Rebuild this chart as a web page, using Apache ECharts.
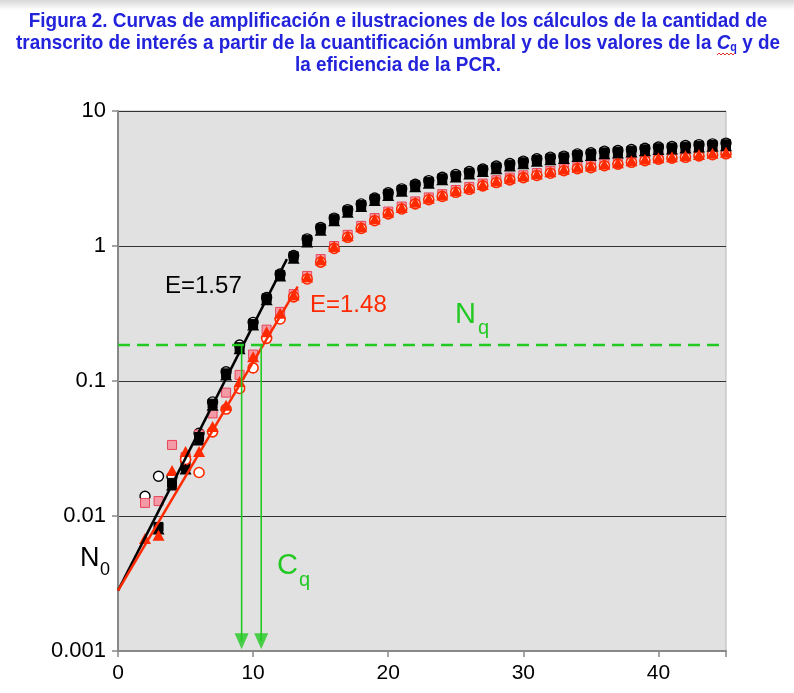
<!DOCTYPE html>
<html><head><meta charset="utf-8">
<script src="https://cdn.jsdelivr.net/npm/echarts@6/dist/echarts.min.js"></script>
<style>html,body{margin:0;padding:0;background:#fff}#c{width:794px;height:693px}</style>
</head><body><div id="c"></div>
<script>
// ---- data ----
const cycles = [2,3,4,5,6,7,8,9,10,11,12,13,14,15,16,17,18,19,20,21,22,23,24,25,26,27,28,29,30,31,32,33,34,35,36,37,38,39,40,41,42,43,44,45];
// black group (E=1.57)
const blackTriangle = [null,0.0080,0.0170,0.0223,0.0366,0.066,0.111,0.173,0.26,0.40,0.60,
  0.81,1.07,1.31,1.54,1.78,1.96,2.17,2.37,2.54,2.75,2.92,3.10,3.25,3.41,3.57,3.74,3.91,4.06,4.24,4.36,4.44,4.61,4.69,4.83,4.89,4.97,5.08,5.18,5.23,5.32,5.41,5.48,5.54];
const blackSquare = [null,0.0083,0.0176,0.0232,0.0385,0.068,0.114,0.178,0.265,0.41,0.61,
  0.84,1.11,1.35,1.58,1.83,2.01,2.23,2.43,2.60,2.82,2.99,3.17,3.32,3.49,3.65,3.83,4.00,4.17,4.34,4.46,4.54,4.72,4.80,4.94,5.00,5.08,5.20,5.30,5.35,5.44,5.53,5.60,5.67];
const blackCircle = [0.0140,0.0197,0.0195,0.0262,0.041,0.070,0.117,0.185,0.272,0.415,0.62,
  0.85,1.13,1.37,1.61,1.86,2.05,2.27,2.48,2.65,2.87,3.05,3.23,3.39,3.56,3.72,3.91,4.08,4.25,4.43,4.55,4.63,4.81,4.90,5.04,5.10,5.18,5.30,5.41,5.46,5.55,5.64,5.71,5.78];
// red group (E=1.48)
const redTriangle = [0.0068,0.0072,0.0217,0.0300,0.0300,0.046,0.066,0.099,0.151,0.232,0.317,
  0.434,0.59,0.787,0.99,1.19,1.39,1.585,1.78,1.93,2.11,2.26,2.39,2.57,2.70,2.86,3.03,3.17,3.30,3.42,3.55,3.70,3.83,3.91,4.03,4.14,4.28,4.39,4.51,4.59,4.66,4.77,4.86,4.94];
const pinkSquare = [0.0125,0.0129,0.0336,0.0273,0.0401,0.0575,0.082,0.111,0.157,0.24,0.325,
  0.44,0.60,0.80,1.00,1.21,1.41,1.61,1.80,1.96,2.14,2.29,2.42,2.60,2.74,2.90,3.07,3.21,3.34,3.47,3.60,3.75,3.88,3.96,4.08,4.20,4.34,4.45,4.57,4.65,4.72,4.83,4.92,5.00];
const redCircle = [null,null,null,0.0262,0.0210,0.042,0.062,0.088,0.125,0.207,0.288,
  0.42,0.57,0.76,0.96,1.16,1.35,1.54,1.73,1.88,2.05,2.20,2.33,2.50,2.63,2.79,2.95,3.09,3.21,3.33,3.46,3.61,3.74,3.81,3.93,4.04,4.17,4.28,4.40,4.48,4.54,4.65,4.74,4.82];
// fitted exponential lines
const fitBlack = [[0,0.0028],[12.5,0.80]];
const fitRed = [[0,0.0028],[13.3,0.50]];
// threshold and Cq values
const nqLevel = 0.185;
const cqValues = [9.15, 10.6];
const xTicks = [0,10,20,30,40];
const yTickLabels = ['0.001','0.01','0.1','1','10'];

// ---- chart ----
const pair = arr => cycles.map((c,i)=>[c, arr[i]]).filter(p => p[1] != null);
const GREEN = '#22c922';
const RED = '#ff2a00';
const BLUE = '#2323dc';
const FONT = '"Liberation Sans", Arial, sans-serif';
const chart = echarts.init(document.getElementById('c'), null, {renderer:'canvas'});

function scatter(name, arr, symbol, size, fill, border, bw, z){
  return {name, type:'scatter', data: pair(arr), symbol, symbolSize:size, z,
    itemStyle:{color:fill, borderColor:border, borderWidth:bw, opacity:1}, silent:true};
}

const arrowSeries = cqValues.map(c => ({
  type:'line', data:[[c, nqLevel],[c, 0.00118]], symbol:'none', z:6, silent:true,
  lineStyle:{color:GREEN, width:1.6}
}));
const arrowHeads = {
  type:'scatter', data: cqValues.map(c=>[c,0.00118]), symbol:'triangle', symbolRotate:180,
  symbolSize:[14,16], z:6, silent:true, itemStyle:{color:GREEN}
};

function titleText(y, style){
  return {type:'text', x:398, y, scaleX:0.9, scaleY:1, silent:true,
    style:Object.assign({align:'center', verticalAlign:'middle', fill:BLUE, font:'bold 21px '+FONT}, style)};
}

const option = {
  animation:false,
  backgroundColor:'#fff',
  grid:{left:118, right:68, top:111, bottom:42, show:true, backgroundColor:'#e1e1e1', borderColor:'#b4b4b4', borderWidth:1},
  xAxis:{type:'value', min:0, max:45, interval:10,
    axisLine:{show:true, lineStyle:{color:'#888', width:2}},
    axisTick:{show:true, length:6, lineStyle:{color:'#888', width:1.5}},
    axisLabel:{color:'#000', fontSize:21, fontFamily:FONT, margin:12,
      formatter: v => xTicks.includes(v) ? String(v) : ''},
    splitLine:{show:false}},
  yAxis:{type:'log', logBase:10, min:0.001, max:10,
    axisLine:{show:true, lineStyle:{color:'#888', width:2}},
    axisTick:{show:true, length:6, lineStyle:{color:'#888', width:1.5}},
    axisLabel:{color:'#000', fontSize:22, fontFamily:FONT, margin:12,
      formatter: v => yTickLabels[Math.round(Math.log10(v))+3]},
    splitLine:{show:true, lineStyle:{color:'#333', width:1}},
    minorTick:{show:false}},
  series:[
    scatter('bc', blackCircle, 'circle', 10, '#fff', '#000', 1.4, 2),
    scatter('bs', blackSquare, 'rect', 9, '#000', '#000', 1, 3),
    scatter('bt', blackTriangle, 'triangle', [12,11], '#000', '#000', 0, 4),
    scatter('ps', pinkSquare, 'rect', 9, '#f49aa6', '#e8455a', 1, 2),
    scatter('rc', redCircle, 'circle', 10, '#fff', RED, 1.6, 3),
    scatter('rt', redTriangle, 'triangle', [12,11], RED, RED, 0, 4),
    {type:'line', data:fitBlack, symbol:'none', z:5, silent:true, lineStyle:{color:'#000', width:2.5}},
    {type:'line', data:fitRed, symbol:'none', z:5, silent:true, lineStyle:{color:RED, width:2.5}},
    {type:'line', data:[[0,nqLevel],[45,nqLevel]], symbol:'none', z:6, silent:true,
      lineStyle:{color:GREEN, width:2.5, type:[12,7]}},
    ...arrowSeries,
    arrowHeads
  ],
  graphic:[
    {type:'rect', shape:{x:0,y:0,width:794,height:10}, silent:true,
      style:{fill:new echarts.graphic.LinearGradient(0,0,0,1,[{offset:0,color:'#d8d8d8'},{offset:1,color:'#ffffff'}])}},
    titleText(21, {text:'Figura 2. Curvas de amplificación e ilustraciones de los cálculos de la cantidad de'}),
    titleText(43, {
      text:'{n|transcrito de interés a partir de la cuantificación umbral y de los valores de la }{i|C}{s|q}{n| y de}',
      rich:{
        n:{font:'bold 21px '+FONT, fill:BLUE, lineHeight:22},
        i:{font:'italic bold 21px '+FONT, fill:BLUE, lineHeight:22},
        s:{font:'bold 12px '+FONT, fill:BLUE, lineHeight:8, verticalAlign:'bottom'}
      }}),
    titleText(65, {text:'la eficiencia de la PCR.'}),
    {type:'polyline', silent:true, shape:{points:[[717,55],[719,53],[721,55],[723,53],[725,55],[727,53],[729,55],[731,53],[733,55],[735,53]]},
      style:{stroke:'#e03030', lineWidth:1, fill:null}},
    {type:'text', x:165, y:286, silent:true, style:{text:'E=1.57', verticalAlign:'middle', font:'24px '+FONT, fill:'#000'}},
    {type:'text', x:310, y:305, silent:true, style:{text:'E=1.48', verticalAlign:'middle', font:'24px '+FONT, fill:RED}},
    {type:'text', x:455, y:315, silent:true, style:{text:'N', verticalAlign:'middle', font:'29px '+FONT, fill:GREEN}},
    {type:'text', x:478, y:328, silent:true, style:{text:'q', verticalAlign:'middle', font:'20px '+FONT, fill:GREEN}},
    {type:'text', x:277, y:566, silent:true, style:{text:'C', verticalAlign:'middle', font:'29px '+FONT, fill:GREEN}},
    {type:'text', x:299, y:580, silent:true, style:{text:'q', verticalAlign:'middle', font:'20px '+FONT, fill:GREEN}},
    {type:'text', x:80, y:559, silent:true, style:{text:'N', verticalAlign:'middle', font:'27px '+FONT, fill:'#000'}},
    {type:'text', x:100, y:570, silent:true, style:{text:'0', verticalAlign:'middle', font:'18px '+FONT, fill:'#000'}}
  ]
};
chart.setOption(option);
</script>
</body></html>
